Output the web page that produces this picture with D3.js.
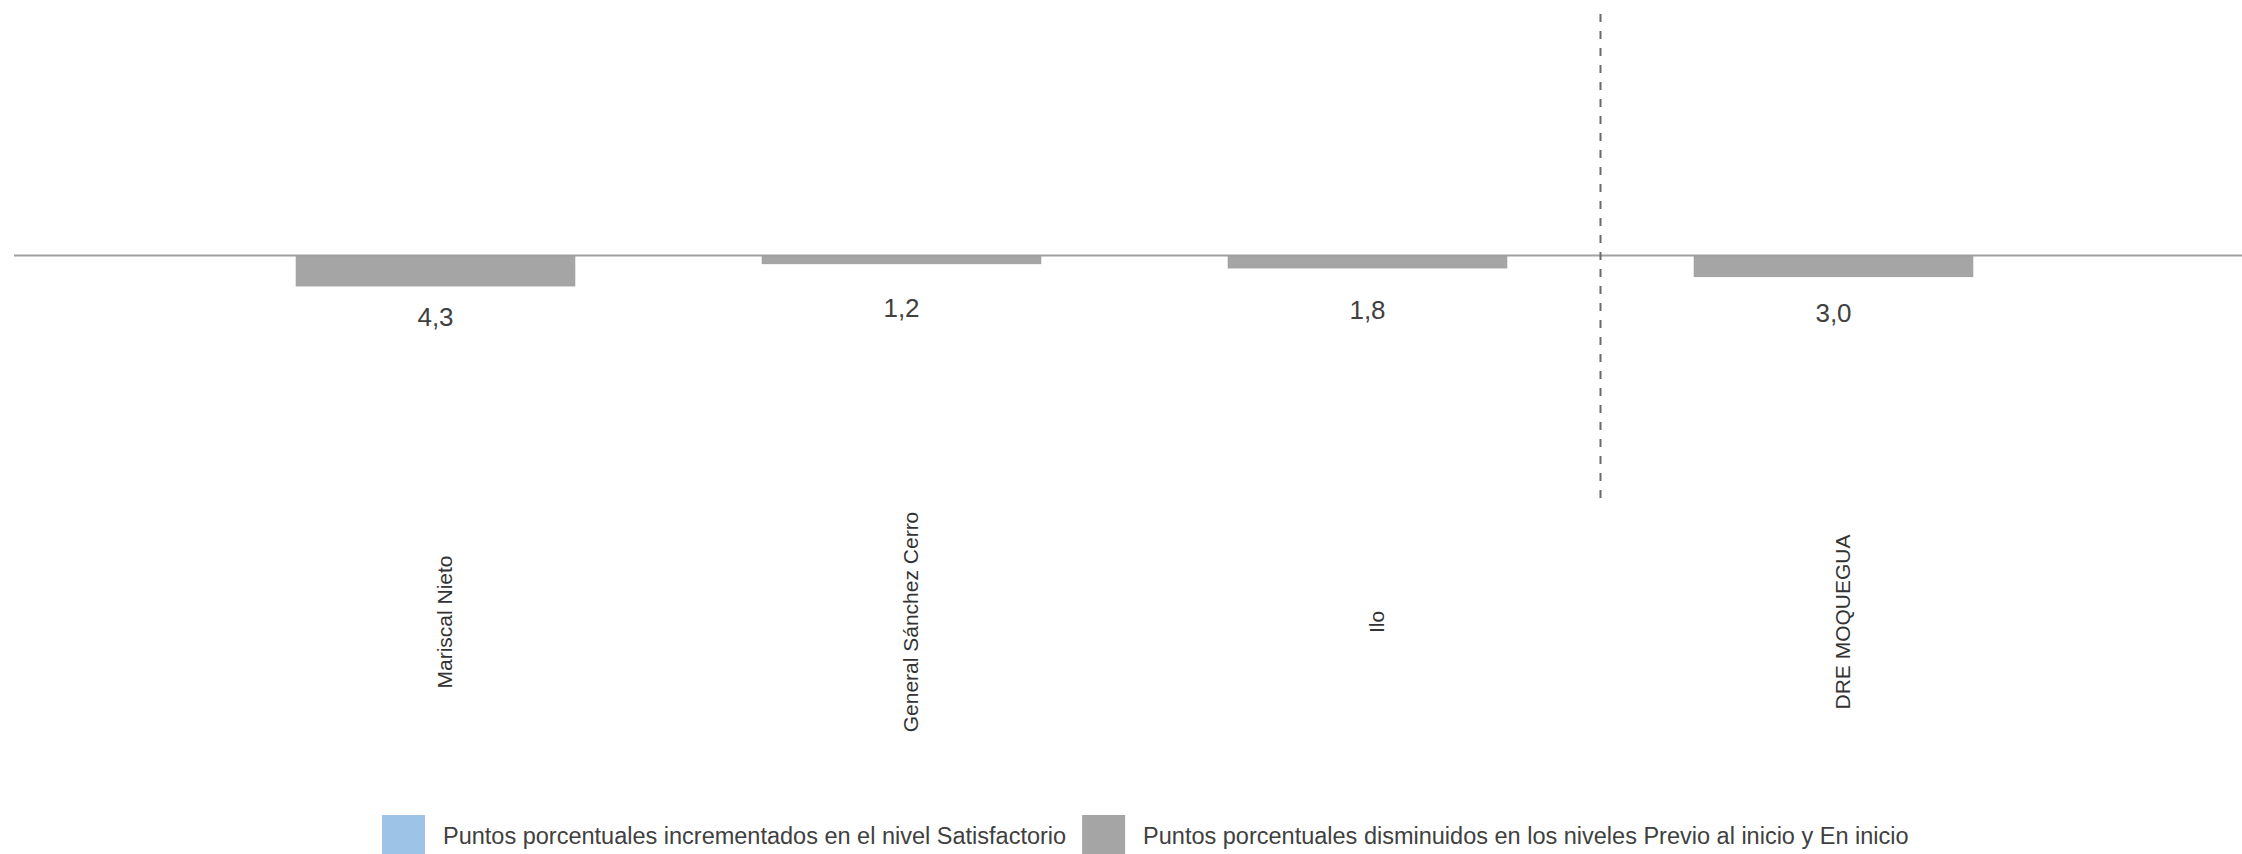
<!DOCTYPE html>
<html>
<head>
<meta charset="utf-8">
<script src="https://cdn.jsdelivr.net/npm/d3@7"></script>
<style>
  html, body { margin: 0; padding: 0; background: #ffffff; }
  svg { display: block; font-family: "Liberation Sans", Arial, sans-serif; }
</style>
</head>
<body>
<svg id="chart" width="2242" height="854"></svg>
<script>
// ---- data ----
const categories = ["Mariscal Nieto", "General Sánchez Cerro", "Ilo", "DRE MOQUEGUA"];
const increasedSatisfactorio = [null, null, null, null];
const decreasedPrevioInicio = [4.3, 1.2, 1.8, 3.0];
const valueLabels = ["4,3", "1,2", "1,8", "3,0"];
const legendLabels = [
  "Puntos porcentuales incrementados en el nivel Satisfactorio",
  "Puntos porcentuales disminuidos en los niveles Previo al inicio y En inicio"
];

// ---- layout ----
const W = 2242, H = 854;
const svg = d3.select("#chart");
const colors = ["#9dc3e6", "#a5a5a5"];

const x = d3.scalePoint().domain(categories).range([202.5, 2066.5]).padding(0.5);
const step = x.step();
const barW = step * 0.6;

// y: 0 at baseline, positive "decrease" values drawn downward
const y = d3.scaleLinear().domain([0, 10]).range([255.5, 327.5]);
// value label position (centre) as a function of value
const yLabel = d3.scaleLinear().domain([0, 10]).range([304.5, 333.5]);

// bars
svg.append("g").selectAll("rect")
  .data(decreasedPrevioInicio)
  .join("rect")
  .attr("x", (d, i) => x(categories[i]) - barW / 2)
  .attr("y", y(0))
  .attr("width", barW)
  .attr("height", d => y(d) - y(0))
  .attr("fill", colors[1]);

// baseline (zero axis)
const axis = d3.axisBottom(x).tickSize(0).tickFormat("");
const axG = svg.append("g").attr("transform", `translate(0,${y(0)})`).call(axis);
axG.select(".domain").remove();
svg.append("line")
  .attr("x1", 14).attr("x2", W)
  .attr("y1", y(0)).attr("y2", y(0))
  .attr("stroke", "#a0a0a0").attr("stroke-width", 2);

// dashed separator between Ilo and DRE
const sepX = (x(categories[2]) + x(categories[3])) / 2;
svg.append("line")
  .attr("x1", sepX).attr("x2", sepX)
  .attr("y1", 14).attr("y2", 498)
  .attr("stroke", "#6a6a6a").attr("stroke-width", 2)
  .attr("stroke-dasharray", "8,9");

// value labels
svg.append("g").selectAll("text")
  .data(decreasedPrevioInicio)
  .join("text")
  .attr("x", (d, i) => x(categories[i]))
  .attr("y", d => yLabel(d))
  .attr("dy", "0.35em")
  .attr("text-anchor", "middle")
  .attr("font-size", 26)
  .attr("fill", "#404040")
  .text((d, i) => valueLabels[i]);

// category labels (rotated)
svg.append("g").selectAll("text")
  .data(categories)
  .join("text")
  .attr("transform", d => `translate(${x(d) + 9.5},622) rotate(-90)`)
  .attr("dy", "0.35em")
  .attr("text-anchor", "middle")
  .attr("font-size", 21)
  .attr("fill", "#333333")
  .text(d => d);

// legend
const leg = svg.append("g");
const swatchW = 43, swatchH = 40;
let lx = 382;
legendLabels.forEach((lab, i) => {
  leg.append("rect")
    .attr("x", lx).attr("y", 815)
    .attr("width", swatchW).attr("height", swatchH)
    .attr("fill", colors[i]);
  const t = leg.append("text")
    .attr("x", lx + swatchW + 18).attr("y", 844)
    .attr("font-size", 23.5)
    .attr("fill", "#404040")
    .text(lab);
  const len = t.node().getComputedTextLength();
  lx = lx + swatchW + 18 + len + 16;
});
</script>
</body>
</html>
